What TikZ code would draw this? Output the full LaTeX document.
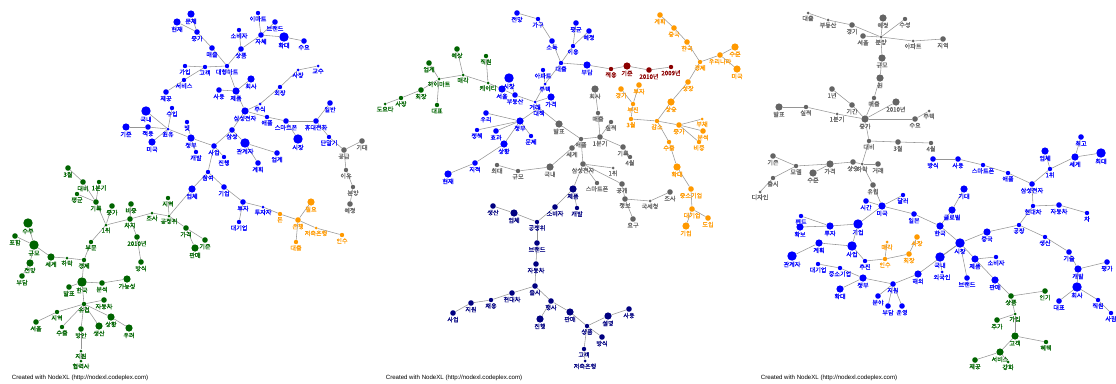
\documentclass[tikz,border=0pt]{standalone}
\usepackage{fontspec}
\usepackage{tikz}
\usetikzlibrary{backgrounds}
\newfontfamily\krfont[FakeBold=0.6]{Noto Sans CJK KR}
\newfontfamily\crfont{Liberation Sans}
\definecolor{nblue}{HTML}{0000FF}
\definecolor{ngreen}{HTML}{006400}
\definecolor{norange}{HTML}{FF9900}
\definecolor{ngray}{HTML}{646464}
\definecolor{nnavy}{HTML}{000080}
\definecolor{nred}{HTML}{8B0000}
\definecolor{edgegray}{HTML}{959595}

\begin{document}
\begin{tikzpicture}[x=1pt, y=-1pt, label distance=0.4pt,
  v/.style={circle, inner sep=0pt, draw=none},
  lab/.style={font=\krfont\fontsize{6.1}{7}\selectfont, inner sep=0.2pt},
  sza/.style={minimum size=3pt}, szb/.style={minimum size=4.4pt}, szc/.style={minimum size=5.6pt},
  szd/.style={minimum size=7.2pt}, sze/.style={minimum size=9.4pt},
  bl/.style={v, fill=nblue, label={[lab, text=nblue]below:#1}},
  gn/.style={v, fill=ngreen, label={[lab, text=ngreen]below:#1}},
  og/.style={v, fill=norange, label={[lab, text=norange]below:#1}},
  gr/.style={v, fill=ngray, label={[lab, text=ngray]below:#1}},
  nv/.style={v, fill=nnavy, label={[lab, text=nnavy]below:#1}},
  rd/.style={v, fill=nred, label={[lab, text=nred]below:#1}},
  e/.style={draw=edgegray, line width=0.55pt},
  credit/.style={font=\crfont\fontsize{6.1}{7}\selectfont, inner sep=0pt}]
\useasboundingbox (0,0) rectangle (1116,383);

% ---------------- graph 1
\node[bl=현재, szd] (ahyunjae) at (177,22) {};
\node[bl=문제, szd] (amunje) at (191,14) {};
\node[bl=증가, szc] (ajeungga) at (197,32) {};
\node[bl=매출, szc] (amaechul) at (212,48) {};
\node[bl=대형마트, szb] (adaehyeong) at (227,66) {};
\node[bl=고객, szb] (agogaek) at (205,67) {};
\node[bl=가입, szb] (agaip) at (185,66) {};
\node[bl=서비스, szb] (aservice) at (184,80) {};
\node[bl=제공, szc] (ajegong) at (166,92) {};
\node[bl=국내, sze] (agungnae) at (146,111) {};
\node[bl=수입, szb] (asuip) at (172,108) {};
\node[bl=빛, szb] (abit) at (187,122) {};
\node[bl=기준, szd] (agijun) at (126,127) {};
\node[bl=적용, szc] (ajeogyong) at (148,127) {};
\node[bl=원유, sza] (awonyu) at (168,129) {};
\node[bl=미국, szd] (amiguk) at (152,142) {};
\node[bl=정부, szd] (ajeongbu) at (191,138) {};
\node[bl=개발, szb] (agaebal) at (196,152) {};
\node[bl=사업, szc] (asaeop) at (214,146) {};
\node[bl=삼성, szc] (asamsung) at (232,130) {};
\node[bl=관계자, sze] (agwangye) at (245,143) {};
\node[bl=업계, szc] (aeopgye) at (277,153) {};
\node[bl=계획, szc] (agyehoek) at (258,163) {};
\node[bl=진행, szb] (ajinhaeng) at (224,157) {};
\node[bl=참여, szb] (achamyeo) at (208,172) {};
\node[bl=업체, szd] (aeopche) at (192,189) {};
\node[bl=기업, szc] (agieop) at (224,187) {};
\node[bl=투자, szc] (atuja) at (243,202) {};
\node[bl=대기업, szb] (adaegieop) at (239,222) {};
\node[bl=투자자, sza] (atujaja) at (263,207) {};
\node[bl=상품, szc] (asangpum) at (241,49) {};
\node[bl=소비자, szb] (asobija) at (239,30) {};
\node[bl=자체, szc] (ajache) at (261,35) {};
\node[bl=이마트, szb] (aemart) at (258,13) {};
\node[bl=브랜드, szc] (abrand) at (275,22) {};
\node[bl=확대, sze] (ahwakdae) at (284,37) {};
\node[bl=수요, szc] (asuyo) at (304,41) {};
\node[bl=회사, szd] (ahoesa) at (251,79) {};
\node[bl=사용, szc] (asayong) at (219,90) {};
\node[bl=제품, szd] (ajepum) at (236,91) {};
\node[bl=삼성전자, szd] (asamjeon) at (245,111) {};
\node[bl=주식, sza] (ajusik) at (260,104) {};
\node[bl=회장, szb] (ahoejang) at (280,87) {};
\node[bl=사장, sza] (asajang) at (298,70) {};
\node[bl=교수, sza] (agyosu) at (318,66) {};
\node[bl=애플, szb] (aapple) at (267,117) {};
\node[bl=스마트폰, szc] (asmart) at (286,121) {};
\node[bl=시장, sze] (asijang) at (298,139) {};
\node[bl=휴대전화, szc] (ahyudae) at (316,121) {};
\node[bl=일반, szc] (ailban) at (330,103) {};
\node[bl=단말기, szb] (adanmal) at (329,137) {};
\node[gr=공급, szc] (agonggeup) at (344,150) {};
\node[gr=기대, szc] (agidae) at (362,141) {};
\node[gr=이유, szb] (aiyu) at (346,170) {};
\node[gr=분양, szb] (abunyang) at (353,187) {};
\node[gr=예정, szc] (ayejeong) at (350,204) {};
\node[og=돈, szb] (adon) at (280,214) {};
\node[og=은행, szc] (aeunhaeng) at (298,220) {};
\node[og=필요, szd] (apiryo) at (311,202) {};
\node[og=대출, szb] (adaechul) at (296,242) {};
\node[og=저축은행, sza] (ajeochuk) at (316,228) {};
\node[og=인수, szb] (ainsu) at (342,235) {};
\node[gn=3월, szc] (asamwol) at (68,168) {};
\node[gn=대비, szc] (adaebi) at (83,182) {};
\node[gn=1분기, szb] (abungi) at (99,182) {};
\node[gn=평균, szb] (apyeonggyun) at (77,194) {};
\node[gn=기록, szc] (agirok) at (96,202) {};
\node[gn=증가, szc] (ajeungga2) at (112,206) {};
\node[gn=1위, sza] (awi) at (106,225) {};
\node[gn=비중, szc] (abijung) at (131,204) {};
\node[gn=차지, szc] (achaji) at (130,219) {};
\node[gn=2010년, szc] (ayear) at (137,237) {};
\node[gn=방식, szc] (abangsik) at (141,262) {};
\node[gn=조사, sza] (ajosa) at (152,213) {};
\node[gn=공정위, sza] (agongjeong) at (169,216) {};
\node[gn=지역, szb] (ajiyeok) at (168,198) {};
\node[gn=가격, szc] (agagyeok) at (186,228) {};
\node[gn=기준, szc] (agijun2) at (205,240) {};
\node[gn=판매, szd] (apanmae) at (195,248) {};
\node[gn=부문, szb] (abumun) at (91,242) {};
\node[gn=경제, szb] (agyeongje) at (84,260) {};
\node[gn=하락, sza] (aharak) at (67,258) {};
\node[gn=세계, szd] (asegye) at (51,257) {};
\node[gn=규모, sze] (agyumo) at (34,245) {};
\node[gn=수주, sze] (asuju) at (28,223) {};
\node[gn=포함, szc] (apoham) at (15,236) {};
\node[gn=전망, szd] (ajeonmang) at (30,263) {};
\node[gn=부담, szc] (abudam) at (22,276) {};
\node[gn=한국, sze] (ahanguk) at (82,282) {};
\node[gn=발표, szc] (abalpyo) at (69,287) {};
\node[gn=분석, szc] (abunseok) at (102,283) {};
\node[gn=가능성, szd] (aganeung) at (127,279) {};
\node[gn=유럽, szb] (ayureop) at (84,304) {};
\node[gn=자동차, szc] (ajadongcha) at (104,300) {};
\node[gn=지역, szb] (ajiyeok2) at (57,312) {};
\node[gn=서울, szc] (aseoul) at (36,322) {};
\node[gn=수출, szb] (asuchul) at (62,327) {};
\node[gn=방안, szc] (abangan) at (81,329) {};
\node[gn=생산, szd] (asaengsan) at (99,326) {};
\node[gn=상황, szd] (asanghwang) at (111,317) {};
\node[gn=우려, szd] (auryeo) at (129,328) {};
\node[gn=협력사, sza] (ahyeomnyeok) at (81,361) {};
\node[gn=지원, sza] (ajiwon) at (81,351) {};

% ---------------- graph 2
\node[bl=전망, szc] (bjeonmang) at (517,13) {};
\node[bl=가구, szb] (bgagu) at (538,19) {};
\node[bl=소득, szc] (bsodeuk) at (552,41) {};
\node[bl=대출, szb] (bdaechul) at (561,63) {};
\node[bl=평균, szc] (bpyeonggyun) at (576,23) {};
\node[bl=예정, szc] (byejeong) at (589,31) {};
\node[bl=이용, szb] (biyong) at (573,46) {};
\node[bl=부담, szd] (bbudam) at (587,65) {};
\node[bl=아파트, szb] (bapt) at (543,70) {};
\node[bl=주택, sza] (bjutaek) at (545,84) {};
\node[bl=가격, szd] (bgagyeok) at (551,97) {};
\node[bl=대책, sza] (bdaechaek) at (539,108) {};
\node[bl=거래, sza] (bgeorae) at (535,102) {};
\node[bl=시장, sze] (bsijang) at (509,78) {};
\node[bl=서울, szd] (bseoul) at (502,89) {};
\node[bl=부동산, szc] (bbudongsan) at (515,95) {};
\node[bl=정부, szd] (bjeongbu) at (520,121) {};
\node[bl=우리, szc] (buri) at (486,113) {};
\node[bl=정책, szb] (bjeongchaek) at (477,130) {};
\node[bl=효과, szc] (bhyogwa) at (496,131) {};
\node[bl=문제, szb] (bmunje) at (531,136) {};
\node[bl=상황, szd] (bsanghwang) at (504,144) {};
\node[bl=지적, szc] (bjijeok) at (475,163) {};
\node[bl=현재, szd] (bhyunjae) at (448,174) {};
\node[rd=적용, szb] (bjeogyong) at (611,69) {};
\node[rd=기준, szd] (bgijun) at (627,66) {};
\node[rd=2010년, szc] (byear) at (649,70) {};
\node[rd=2009년, szb] (byear2) at (671,67) {};
\node[gn=예상, szc] (byesang) at (457,49) {};
\node[gn=업계, szc] (beopgye) at (429,63) {};
\node[gn=하이마트, sza] (bhimart) at (439,79) {};
\node[gn=매각, sza] (bmaegak) at (463,75) {};
\node[gn=직원, szb] (bjigwon) at (486,56) {};
\node[gn=케이티, sza] (bkt) at (488,83) {};
\node[gn=회장, szc] (bhoejang) at (421,90) {};
\node[gn=사장, szb] (bsajang) at (401,98) {};
\node[gn=도요타, sza] (btoyota) at (385,104) {};
\node[gn=대표, szb] (bdaepyo) at (437,105) {};
\node[gr=발표, szd] (bbalpyo) at (559,124) {};
\node[gr=회사, szd] (bhoesa) at (595,89) {};
\node[gr=매출, szb] (bmaechul) at (598,113) {};
\node[gr=애플, szb] (bapple) at (581,139) {};
\node[gr=1분기, szc] (bbungi) at (600,137) {};
\node[gr=실적, szb] (bsiljeok) at (611,122) {};
\node[gr=기록, szc] (bgirok) at (623,147) {};
\node[gr=4월, szb] (bsawol) at (630,157) {};
\node[gr=세계, szc] (bsegye) at (572,148) {};
\node[gr=국내, szd] (bgungnae) at (550,167) {};
\node[gr=규모, szb] (bgyumo) at (518,171) {};
\node[gr=최대, szb] (bchoedae) at (497,165) {};
\node[gr=삼성전자, szc] (bsamjeon) at (583,164) {};
\node[gr=1위, sza] (bwi) at (613,168) {};
\node[gr=공개, szc] (bgonggae) at (622,184) {};
\node[gr=스마트폰, szb] (bsmart) at (597,183) {};
\node[gr=정보, szc] (bjeongbo) at (625,199) {};
\node[gr=요구, szc] (byogu) at (633,219) {};
\node[gr=국세청, sza] (bguksecheong) at (650,201) {};
\node[gr=조사, szc] (bjosa) at (670,192) {};
\node[og=계획, szc] (bgyehoek) at (660,15) {};
\node[og=중국, szc] (bjungguk) at (674,28) {};
\node[og=한국, szc] (bhanguk) at (687,42) {};
\node[og=경제, szb] (bgyeongje) at (700,62) {};
\node[og=우리나라, szc] (burinara) at (720,55) {};
\node[og=수준, szd] (bsujun) at (735,47) {};
\node[og=미국, szd] (bmiguk) at (737,69) {};
\node[og=성장, szc] (bseongjang) at (688,82) {};
\node[og=상승, szd] (bsangseung) at (671,102) {};
\node[og=감소, szb] (bgamso) at (657,121) {};
\node[og=3월, szb] (bsamwol) at (631,119) {};
\node[og=부진, szb] (bbujin) at (633,104) {};
\node[og=경기, szc] (bgyeonggi) at (621,89) {};
\node[og=투자, szc] (btuja) at (639,85) {};
\node[og=증가, szc] (bjeungga) at (679,125) {};
\node[og=부채, sza] (bbuchae) at (702,119) {};
\node[og=분석, szc] (bbunseok) at (703,131) {};
\node[og=비중, szb] (bbijung) at (699,142) {};
\node[og=수출, szb] (bsuchul) at (669,142) {};
\node[og=확대, szd] (bhwakdae) at (677,167) {};
\node[og=중소기업, szc] (bjungso) at (691,189) {};
\node[og=대기업, szc] (bdaegieop) at (692,209) {};
\node[og=기업, szd] (bgieop) at (686,226) {};
\node[og=도입, szc] (bdoip) at (708,218) {};
\node[nv=제품, szd] (bjepum) at (573,189) {};
\node[nv=개발, szb] (bgaebal) at (577,208) {};
\node[nv=소비자, szc] (bsobija) at (555,207) {};
\node[nv=공정위, szb] (bgongjeong) at (537,222) {};
\node[nv=업체, szd] (beopche) at (514,213) {};
\node[nv=생산, szc] (bsaengsan) at (493,206) {};
\node[nv=브랜드, szc] (bbrand) at (537,243) {};
\node[nv=자동차, szc] (bjadongcha) at (536,264) {};
\node[nv=출시, szc] (bchulsi) at (535,286) {};
\node[nv=현대차, szc] (bhyundai) at (512,293) {};
\node[nv=채용, szb] (bchaeyong) at (491,300) {};
\node[nv=지원, szc] (bjiwon) at (471,303) {};
\node[nv=사업, szc] (bsaeop) at (453,313) {};
\node[nv=행사, szc] (bhaengsa) at (551,301) {};
\node[nv=진행, szd] (bjinhaeng) at (540,319) {};
\node[nv=판매, szd] (bpanmae) at (570,312) {};
\node[nv=상품, szb] (bsangpum) at (587,326) {};
\node[nv=설명, szd] (bseolmyeong) at (608,316) {};
\node[nv=사용, szc] (bsayong) at (629,309) {};
\node[nv=방식, szc] (bbangsik) at (602,337) {};
\node[nv=저축은행, sza] (bjeochuk) at (585,361) {};
\node[nv=고객, szb] (bgogaek) at (584,349) {};

% ---------------- graph 3
\node[gr=대출, sza] (cdaechul) at (808,13) {};
\node[gr=부동산, sza] (cbudongsan) at (828,20) {};
\node[gr=경기, szc] (cgyeonggi) at (852,25) {};
\node[gr=예정, szd] (cyejeong) at (883,18) {};
\node[gr=수성, szb] (csuseong) at (905,19) {};
\node[gr=서울, szc] (cseoul) at (863,36) {};
\node[gr=분양, sza] (cbunyang) at (881,37) {};
\node[gr=아파트, sza] (capt) at (913,41) {};
\node[gr=지역, szc] (cjiyeok) at (943,39) {};
\node[gr=규모, szd] (cgyumo) at (882,58) {};
\node[gr=원, szd] (cwon) at (880,78) {};
\node[gr=매출, szb] (cmaechul) at (874,98) {};
\node[gr=1년, szc] (cnyeon) at (832,89) {};
\node[gr=기간, szc] (cgigan) at (852,105) {};
\node[gr=2010년, szd] (cyear) at (896,102) {};
\node[gr=발표, szd] (cbalpyo) at (779,107) {};
\node[gr=실적, szb] (csiljeok) at (806,107) {};
\node[gr=1분기, sza] (cbungi) at (837,114) {};
\node[gr=증가, szd] (cjeungga) at (865,119) {};
\node[gr=수요, szc] (csuyo) at (915,119) {};
\node[gr=주택, sza] (cjutaek) at (929,111) {};
\node[gr=대비, szb] (cdaebi) at (869,141) {};
\node[gr=3월, szc] (csamwol) at (898,142) {};
\node[gr=4월, szb] (csawol) at (931,143) {};
\node[gr=기존, szc] (cgijon) at (773,156) {};
\node[gr=모델, szb] (cmodel) at (796,166) {};
\node[gr=출시, szb] (cchulsi) at (773,178) {};
\node[gr=디자인, sza] (cdesign) at (760,192) {};
\node[gr=가격, szd] (cgagyeok) at (830,164) {};
\node[gr=수준, szd] (csujun) at (813,173) {};
\node[gr=상승, szc] (csangseung) at (853,162) {};
\node[gr=하락, sza] (charak) at (862,164) {};
\node[gr=거래, szc] (cgeorae) at (878,164) {};
\node[gr=유럽, szc] (cyureop) at (873,185) {};
\node[bl=방식, szc] (cbangsik) at (933,159) {};
\node[bl=사용, szc] (csayong) at (958,159) {};
\node[bl=스마트폰, szb] (csmart) at (983,165) {};
\node[bl=애플, szb] (capple) at (1008,173) {};
\node[bl=삼성전자, szc] (csamjeon) at (1032,184) {};
\node[bl=1위, szb] (cwi) at (1050,169) {};
\node[bl=업체, szd] (ceopche) at (1045,151) {};
\node[bl=세계, szd] (csegye) at (1075,157) {};
\node[bl=최고, szc] (cchoego) at (1081,137) {};
\node[bl=최대, sze] (cchoedae) at (1101,153) {};
\node[bl=현대차, szb] (chyundai) at (1033,206) {};
\node[bl=자동차, szc] (cjadongcha) at (1059,205) {};
\node[bl=차, szb] (ccha) at (1087,213) {};
\node[bl=공장, szb] (cgongjang) at (1019,225) {};
\node[bl=중국, szd] (cjungguk) at (987,232) {};
\node[bl=생산, szb] (csaengsan) at (1045,237) {};
\node[bl=기술, szc] (cgisul) at (1069,252) {};
\node[bl=개발, szd] (cgaebal) at (1078,269) {};
\node[bl=평가, szc] (cpyeongga) at (1107,262) {};
\node[bl=회사, sze] (choesa) at (1077,287) {};
\node[bl=대표, szc] (cdaepyo) at (1059,301) {};
\node[bl=직원, szb] (cjigwon) at (1098,300) {};
\node[bl=사람, szb] (csaram) at (1111,313) {};
\node[bl=기대, szd] (cgidae) at (964,189) {};
\node[bl=글로벌, szd] (cglobal) at (952,210) {};
\node[bl=한국, szd] (changuk) at (940,226) {};
\node[bl=시장, sze] (csijang) at (960,243) {};
\node[bl=외국인, sza] (coegugin) at (942,272) {};
\node[bl=국내, sze] (cgungnae) at (940,257) {};
\node[bl=제품, szd] (cjepum) at (975,259) {};
\node[bl=소비자, szb] (csobija) at (996,257) {};
\node[bl=브랜드, szc] (cbrand) at (967,278) {};
\node[bl=판매, szd] (cpanmae) at (995,280) {};
\node[bl=시간, szc] (csigan) at (866,201) {};
\node[bl=미국, szd] (cmiguk) at (882,206) {};
\node[bl=달러, szb] (cdalleo) at (903,195) {};
\node[bl=일본, szc] (cilbon) at (914,214) {};
\node[bl=기업, sze] (cgieop) at (858,224) {};
\node[bl=투자, szd] (ctuja) at (830,226) {};
\node[bl=펀드, szb] (cpeondeu) at (801,216) {};
\node[bl=확보, szd] (chwakbo) at (800,227) {};
\node[bl=계획, szd] (cgyehoek) at (819,243) {};
\node[bl=관계자, sze] (cgwangye) at (792,256) {};
\node[bl=사업, sze] (csaeop) at (852,246) {};
\node[bl=추진, szb] (cchujin) at (865,261) {};
\node[bl=대기업, szb] (cdaegieop) at (818,264) {};
\node[bl=중소기업, szb] (cjungso) at (840,268) {};
\node[bl=정부, szd] (cjeongbu) at (863,278) {};
\node[bl=확대, szd] (chwakdae) at (840,289) {};
\node[bl=지원, szc] (cjiwon) at (893,284) {};
\node[bl=해외, szd] (chaeoe) at (918,274) {};
\node[bl=분야, szc] (cbunya) at (878,296) {};
\node[bl=부담, szc] (cbudam) at (888,306) {};
\node[bl=운영, szc] (cunyeong) at (902,306) {};
\node[og=인수, szb] (cinsu) at (885,259) {};
\node[og=매각, sza] (cmaegak) at (887,242) {};
\node[og=회장, szc] (choejang) at (909,254) {};
\node[og=사장, szc] (csajang) at (917,237) {};
\node[gn=상품, szc] (csangpum) at (1011,296) {};
\node[gn=인기, szc] (cingi) at (1045,291) {};
\node[gn=가입, sza] (cgaip) at (1015,314) {};
\node[gn=추가, szc] (cchuga) at (997,320) {};
\node[gn=고객, szd] (cgogaek) at (1015,336) {};
\node[gn=혜택, szb] (chyetaek) at (1046,342) {};
\node[gn=강화, sza] (cganghwa) at (1008,362) {};
\node[gn=서비스, szd] (cservice) at (1000,352) {};
\node[gn=제공, szc] (cjegong) at (975,360) {};

\node[credit] (credA) at (80,378) {Created with NodeXL (http://nodexl.codeplex.com)};
\node[credit] (credB) at (454,378) {Created with NodeXL (http://nodexl.codeplex.com)};
\node[credit] (credC) at (829,378) {Created with NodeXL (http://nodexl.codeplex.com)};

\begin{scope}[on background layer]
% graph 1 edges
\draw[e] (ahyunjae)--(ajeungga); \draw[e] (amunje)--(ajeungga); \draw[e] (ajeungga)--(amaechul);
\draw[e] (amaechul)--(adaehyeong); \draw[e] (agogaek)--(adaehyeong); \draw[e] (agaip)--(agogaek);
\draw[e] (aservice)--(agogaek); \draw[e] (ajegong)--(aservice); \draw[e] (adaehyeong)--(asangpum);
\draw[e] (asobija)--(asangpum); \draw[e] (asangpum)--(ajache); \draw[e] (aemart)--(ajache);
\draw[e] (abrand)--(ajache); \draw[e] (ajache)--(ahwakdae); \draw[e] (ahwakdae)--(asuyo);
\draw[e] (adaehyeong)--(ajepum); \draw[e] (ahoesa)--(ajepum); \draw[e] (asayong)--(ajepum);
\draw[e] (ajepum)--(asamjeon); \draw[e] (asamjeon)--(ajusik); \draw[e] (ajusik)--(ahoejang);
\draw[e] (ahoejang)--(asajang); \draw[e] (asajang)--(agyosu); \draw[e] (asamjeon)--(aapple);
\draw[e] (aapple)--(asmart); \draw[e] (asmart)--(asijang); \draw[e] (asmart)--(ahyudae);
\draw[e] (ahyudae)--(ailban); \draw[e] (ahyudae)--(adanmal); \draw[e] (adanmal)--(agonggeup);
\draw[e] (agonggeup)--(agidae); \draw[e] (agonggeup)--(aiyu); \draw[e] (aiyu)--(abunyang);
\draw[e] (abunyang)--(ayejeong); \draw[e] (asamjeon)--(asamsung); \draw[e] (asamsung)--(asaeop);
\draw[e] (asamsung)--(agwangye); \draw[e] (agwangye)--(aeopgye); \draw[e] (agwangye)--(agyehoek);
\draw[e] (asaeop)--(ajinhaeng); \draw[e] (asaeop)--(achamyeo); \draw[e] (asaeop)--(ajeongbu);
\draw[e] (ajeongbu)--(agaebal); \draw[e] (ajeongbu)--(abit); \draw[e] (ajeongbu)--(awonyu);
\draw[e] (awonyu)--(ajeogyong); \draw[e] (ajeogyong)--(agijun); \draw[e] (agungnae)--(awonyu);
\draw[e] (asuip)--(awonyu); \draw[e] (amiguk)--(awonyu); \draw[e] (achamyeo)--(aeopche);
\draw[e] (achamyeo)--(agieop); \draw[e] (agieop)--(atuja); \draw[e] (atuja)--(adaegieop);
\draw[e] (atuja)--(atujaja); \draw[e] (atujaja)--(adon); \draw[e] (adon)--(aeunhaeng);
\draw[e] (aeunhaeng)--(apiryo); \draw[e] (aeunhaeng)--(adaechul); \draw[e] (aeunhaeng)--(ajeochuk);
\draw[e] (ajeochuk)--(ainsu);
\draw[e] (asamwol)--(adaebi); \draw[e] (adaebi)--(agirok); \draw[e] (abungi)--(agirok);
\draw[e] (apyeonggyun)--(agirok); \draw[e] (agirok)--(awi); \draw[e] (ajeungga2)--(awi);
\draw[e] (awi)--(achaji); \draw[e] (abijung)--(achaji); \draw[e] (achaji)--(ayear);
\draw[e] (ayear)--(abangsik); \draw[e] (achaji)--(ajosa); \draw[e] (ajosa)--(agongjeong);
\draw[e] (ajiyeok)--(agongjeong); \draw[e] (agongjeong)--(agagyeok); \draw[e] (agagyeok)--(agijun2);
\draw[e] (agagyeok)--(apanmae); \draw[e] (agongjeong)--(aeopche); \draw[e] (awi)--(abumun);
\draw[e] (abumun)--(agyeongje); \draw[e] (agyeongje)--(aharak); \draw[e] (aharak)--(asegye);
\draw[e] (asegye)--(agyumo); \draw[e] (agyumo)--(asuju); \draw[e] (agyumo)--(apoham);
\draw[e] (agyumo)--(ajeonmang); \draw[e] (ajeonmang)--(abudam); \draw[e] (agyeongje)--(ahanguk);
\draw[e] (abalpyo)--(ahanguk); \draw[e] (ahanguk)--(abunseok); \draw[e] (abunseok)--(aganeung);
\draw[e] (ahanguk)--(ayureop); \draw[e] (ayureop)--(ajadongcha); \draw[e] (ayureop)--(ajiyeok2);
\draw[e] (ajiyeok2)--(aseoul); \draw[e] (ayureop)--(asuchul); \draw[e] (ayureop)--(abangan);
\draw[e] (ayureop)--(asaengsan); \draw[e] (ayureop)--(asanghwang); \draw[e] (asanghwang)--(auryeo);
\draw[e] (abangan)--(ajiwon); \draw[e] (ajiwon)--(ahyeomnyeok);
% graph 2 edges
\draw[e] (bjeonmang)--(bgagu); \draw[e] (bgagu)--(bsodeuk); \draw[e] (bsodeuk)--(bdaechul);
\draw[e] (bpyeonggyun)--(biyong); \draw[e] (byejeong)--(biyong); \draw[e] (biyong)--(bdaechul);
\draw[e] (bdaechul)--(bbudam); \draw[e] (bbudam)--(bjeogyong); \draw[e] (bjeogyong)--(bgijun);
\draw[e] (bgijun)--(byear); \draw[e] (byear)--(byear2); \draw[e] (bdaechul)--(bjutaek);
\draw[e] (bapt)--(bjutaek); \draw[e] (bjutaek)--(bgeorae); \draw[e] (bgagyeok)--(bgeorae);
\draw[e] (bbudongsan)--(bgeorae); \draw[e] (bsijang)--(bbudongsan); \draw[e] (bseoul)--(bbudongsan);
\draw[e] (bgeorae)--(bdaechaek); \draw[e] (bjeongbu)--(bdaechaek); \draw[e] (bdaechaek)--(bbalpyo);
\draw[e] (buri)--(bjeongbu); \draw[e] (bjeongchaek)--(bjeongbu); \draw[e] (bhyogwa)--(bjeongbu);
\draw[e] (bjeongbu)--(bmunje); \draw[e] (bjeongbu)--(bsanghwang); \draw[e] (bsanghwang)--(bjijeok);
\draw[e] (bjijeok)--(bhyunjae);
\draw[e] (byesang)--(bmaegak); \draw[e] (beopgye)--(bhimart); \draw[e] (bhimart)--(bmaegak);
\draw[e] (bmaegak)--(bkt); \draw[e] (bjigwon)--(bkt); \draw[e] (bhimart)--(bhoejang);
\draw[e] (bhoejang)--(bsajang); \draw[e] (bsajang)--(btoyota); \draw[e] (bhimart)--(bdaepyo);
\draw[e] (bkt)--(bseoul);
\draw[e] (bbalpyo)--(bapple); \draw[e] (bapple)--(bbungi); \draw[e] (bmaechul)--(bbungi);
\draw[e] (bhoesa)--(bmaechul); \draw[e] (bsiljeok)--(bbungi); \draw[e] (bbungi)--(bgirok);
\draw[e] (bgirok)--(bsawol); \draw[e] (bapple)--(bsegye); \draw[e] (bsegye)--(bgungnae);
\draw[e] (bgungnae)--(bgyumo); \draw[e] (bgyumo)--(bchoedae); \draw[e] (bapple)--(bsamjeon);
\draw[e] (bsamjeon)--(bwi); \draw[e] (bsamjeon)--(bgonggae); \draw[e] (bsamjeon)--(bsmart);
\draw[e] (bgonggae)--(bjeongbo); \draw[e] (bjeongbo)--(byogu); \draw[e] (bjeongbo)--(bguksecheong);
\draw[e] (bguksecheong)--(bjosa); \draw[e] (bsamjeon)--(bjepum);
\draw[e] (bgyehoek)--(bjungguk); \draw[e] (bjungguk)--(bhanguk); \draw[e] (bhanguk)--(bgyeongje);
\draw[e] (bgyeongje)--(burinara); \draw[e] (burinara)--(bsujun); \draw[e] (burinara)--(bmiguk);
\draw[e] (bgyeongje)--(bseongjang); \draw[e] (bseongjang)--(bsangseung); \draw[e] (bsangseung)--(bgamso);
\draw[e] (bsamwol)--(bgamso); \draw[e] (bbujin)--(bsamwol); \draw[e] (bgyeonggi)--(bbujin);
\draw[e] (btuja)--(bbujin); \draw[e] (bgamso)--(bjeungga); \draw[e] (bjeungga)--(bbuchae);
\draw[e] (bjeungga)--(bbunseok); \draw[e] (bjeungga)--(bbijung); \draw[e] (bgamso)--(bsuchul);
\draw[e] (bsuchul)--(bhwakdae); \draw[e] (bhwakdae)--(bjungso); \draw[e] (bjungso)--(bdaegieop);
\draw[e] (bdaegieop)--(bgieop); \draw[e] (bdaegieop)--(bdoip);
\draw[e] (bjepum)--(bgaebal); \draw[e] (bjepum)--(bsobija); \draw[e] (bsobija)--(bgongjeong);
\draw[e] (beopche)--(bgongjeong); \draw[e] (bsaengsan)--(beopche); \draw[e] (bgongjeong)--(bbrand);
\draw[e] (bbrand)--(bjadongcha); \draw[e] (bjadongcha)--(bchulsi); \draw[e] (bchulsi)--(bhyundai);
\draw[e] (bhyundai)--(bchaeyong); \draw[e] (bchaeyong)--(bjiwon); \draw[e] (bjiwon)--(bsaeop);
\draw[e] (bchulsi)--(bhaengsa); \draw[e] (bhaengsa)--(bjinhaeng); \draw[e] (bhaengsa)--(bpanmae);
\draw[e] (bpanmae)--(bsangpum); \draw[e] (bsangpum)--(bseolmyeong); \draw[e] (bseolmyeong)--(bsayong);
\draw[e] (bsangpum)--(bbangsik); \draw[e] (bsangpum)--(bgogaek); \draw[e] (bgogaek)--(bjeochuk);
% graph 3 edges
\draw[e] (cdaechul)--(cbudongsan); \draw[e] (cbudongsan)--(cgyeonggi); \draw[e] (cgyeonggi)--(cbunyang);
\draw[e] (cyejeong)--(cbunyang); \draw[e] (csuseong)--(cbunyang); \draw[e] (cseoul)--(cbunyang);
\draw[e] (cbunyang)--(capt); \draw[e] (capt)--(cjiyeok); \draw[e] (cbunyang)--(cgyumo);
\draw[e] (cgyumo)--(cwon); \draw[e] (cwon)--(cmaechul); \draw[e] (cmaechul)--(cjeungga);
\draw[e] (cnyeon)--(cgigan); \draw[e] (cgigan)--(cjeungga); \draw[e] (cyear)--(cjeungga);
\draw[e] (cbalpyo)--(csiljeok); \draw[e] (csiljeok)--(cbungi); \draw[e] (cbungi)--(cjeungga);
\draw[e] (cjeungga)--(csuyo); \draw[e] (csuyo)--(cjutaek); \draw[e] (cjeungga)--(cdaebi);
\draw[e] (cdaebi)--(csamwol); \draw[e] (csamwol)--(csawol); \draw[e] (cgijon)--(cmodel);
\draw[e] (cmodel)--(cchulsi); \draw[e] (cchulsi)--(cdesign); \draw[e] (cmodel)--(cgagyeok);
\draw[e] (csujun)--(cgagyeok); \draw[e] (cgagyeok)--(csangseung); \draw[e] (csangseung)--(charak);
\draw[e] (charak)--(cgeorae); \draw[e] (cdaebi)--(charak); \draw[e] (charak)--(cyureop);
\draw[e] (cyureop)--(cmiguk);
\draw[e] (cbangsik)--(csayong); \draw[e] (csayong)--(csmart); \draw[e] (csmart)--(capple);
\draw[e] (capple)--(csamjeon); \draw[e] (csamjeon)--(cwi); \draw[e] (ceopche)--(cwi);
\draw[e] (cwi)--(csegye); \draw[e] (cchoego)--(csegye); \draw[e] (csegye)--(cchoedae);
\draw[e] (csamjeon)--(chyundai); \draw[e] (chyundai)--(cjadongcha); \draw[e] (cjadongcha)--(ccha);
\draw[e] (chyundai)--(cgongjang); \draw[e] (cgongjang)--(cjungguk); \draw[e] (cgongjang)--(csaengsan);
\draw[e] (csaengsan)--(cgisul); \draw[e] (cgisul)--(cgaebal); \draw[e] (cgaebal)--(cpyeongga);
\draw[e] (cgaebal)--(choesa); \draw[e] (choesa)--(cdaepyo); \draw[e] (choesa)--(cjigwon);
\draw[e] (cjigwon)--(csaram); \draw[e] (cgidae)--(cglobal); \draw[e] (cglobal)--(changuk);
\draw[e] (changuk)--(csijang); \draw[e] (csijang)--(cjungguk); \draw[e] (csijang)--(cgungnae);
\draw[e] (cgungnae)--(coegugin); \draw[e] (csijang)--(cjepum); \draw[e] (cjepum)--(csobija);
\draw[e] (csijang)--(cbrand); \draw[e] (cjepum)--(cpanmae); \draw[e] (cpanmae)--(csangpum);
\draw[e] (csangpum)--(cingi); \draw[e] (csangpum)--(cgaip); \draw[e] (cchuga)--(cgaip);
\draw[e] (cgaip)--(cgogaek); \draw[e] (cgogaek)--(chyetaek); \draw[e] (cgogaek)--(cservice);
\draw[e] (cservice)--(cjegong); \draw[e] (cservice)--(cganghwa);
\draw[e] (csigan)--(cmiguk); \draw[e] (cmiguk)--(cdalleo); \draw[e] (cmiguk)--(cilbon);
\draw[e] (cilbon)--(changuk); \draw[e] (cmiguk)--(cgieop); \draw[e] (ctuja)--(cgieop);
\draw[e] (cpeondeu)--(ctuja); \draw[e] (chwakbo)--(ctuja); \draw[e] (cgwangye)--(cgyehoek);
\draw[e] (cgyehoek)--(csaeop); \draw[e] (cgieop)--(csaeop); \draw[e] (csaeop)--(cchujin);
\draw[e] (cchujin)--(cinsu); \draw[e] (cmaegak)--(cinsu); \draw[e] (cinsu)--(choejang);
\draw[e] (choejang)--(csajang); \draw[e] (cdaegieop)--(cjungso); \draw[e] (cjungso)--(cjeongbu);
\draw[e] (cjeongbu)--(chwakdae); \draw[e] (cjeongbu)--(cjiwon); \draw[e] (cjiwon)--(chaeoe);
\draw[e] (chaeoe)--(csijang); \draw[e] (cjiwon)--(cbunya); \draw[e] (cjiwon)--(cbudam);
\draw[e] (cjiwon)--(cunyeong);
\end{scope}
\end{tikzpicture}
\end{document}
